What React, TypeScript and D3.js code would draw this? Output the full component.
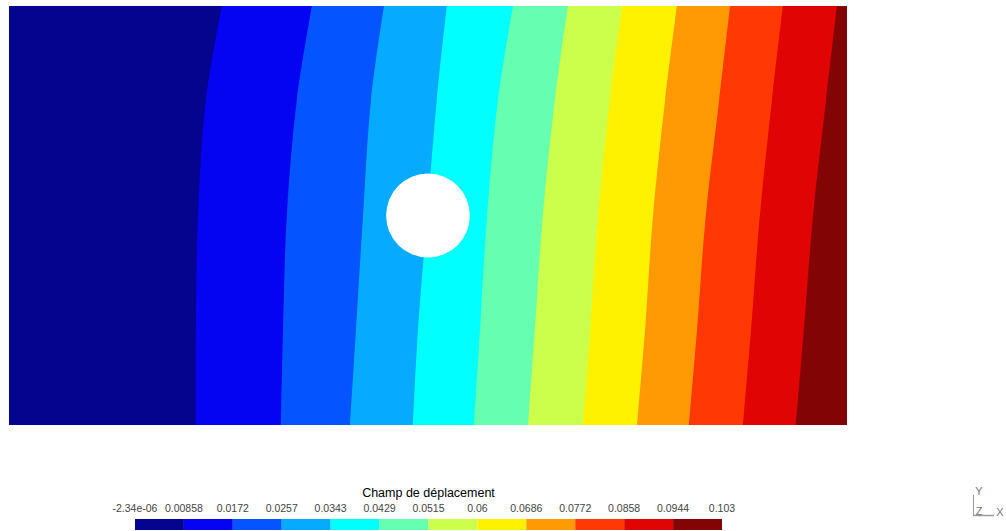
import React from "react";
import * as d3 from "d3";

// Contour levels (colour-bar tick labels)
const levelLabels = ["-2.34e-06", "0.00858", "0.0172", "0.0257", "0.0343", "0.0429", "0.0515", "0.06", "0.0686", "0.0772", "0.0858", "0.0944", "0.103"];

// Band colours, lowest to highest
const bandColors = ["#04048e", "#0404f2", "#0454ff", "#06aaff", "#00ffff", "#66ffb0", "#ccff4c", "#fff200", "#ff9a04", "#ff3804", "#e00404", "#820404"];

// Plate geometry (physical units)
const plateX = [0, 2];
const plateY = [0, 1];
const holeCenter = [1, 0.5];
const holeRadius = 0.1;

// Heights (y) at which the iso-line positions were read
const sampleY = [1, 0.776, 0.5, 0.227, 0];

// x position of each iso-line (boundary between band i and i+1) at each sampleY
const isoB1 = [0.508, 0.47, 0.451, 0.446, 0.446];
const isoB2 = [0.723, 0.687, 0.663, 0.654, 0.649];
const isoB3 = [0.895, 0.864, 0.845, 0.828, 0.814];
const isoB4 = [1.045, 1.021, 0.998, 0.976, 0.964];
const isoB5 = [1.203, 1.167, 1.141, 1.124, 1.11];
const isoB6 = [1.334, 1.303, 1.274, 1.255, 1.239];
const isoB7 = [1.463, 1.434, 1.406, 1.387, 1.37];
const isoB8 = [1.594, 1.566, 1.537, 1.518, 1.499];
const isoB9 = [1.721, 1.695, 1.663, 1.642, 1.623];
const isoB10 = [1.847, 1.821, 1.792, 1.771, 1.752];
const isoB11 = [1.976, 1.95, 1.919, 1.897, 1.878];
const isoLines = [isoB1, isoB2, isoB3, isoB4, isoB5, isoB6, isoB7, isoB8, isoB9, isoB10, isoB11];

const W = 1006;
const H = 531;

export default function App() {
  const x = d3.scaleLinear().domain(plateX).range([9, 847]);
  const y = d3.scaleLinear().domain(plateY).range([425, 6]);

  const line = d3
    .line<[number, number]>()
    .x((d) => x(d[0]))
    .y((d) => y(d[1]))
    .curve(d3.curveCatmullRom.alpha(0.5));

  // Region to the right of each iso-line, painted in order
  const regions = isoLines.map((xs, i) => {
    const pts: [number, number][] = xs.map((v, k) => [v, sampleY[k]]);
    const curve = line(pts) as string;
    const d = `${curve}L${x(plateX[1]) + 2},${y(plateY[0]) + 2}L${x(plateX[1]) + 2},${y(plateY[1]) - 2}Z`;
    return { d, color: bandColors[i + 1] };
  });

  // Colour bar
  const cb = d3.scaleLinear().domain([0, bandColors.length]).range([135, 722]);
  const cbTop = 519;
  const cbH = 11;

  return (
    <svg width={W} height={H} style={{ position: "absolute", left: 0, top: 0, background: "#fff" }} fontFamily="'Liberation Sans', Arial, sans-serif">
      <defs>
        <clipPath id="plate">
          <rect x={x(plateX[0])} y={y(plateY[1])} width={x(plateX[1]) - x(plateX[0])} height={y(plateY[0]) - y(plateY[1])} />
        </clipPath>
      </defs>
      <g clipPath="url(#plate)">
        <rect x={x(plateX[0])} y={y(plateY[1])} width={x(plateX[1]) - x(plateX[0])} height={y(plateY[0]) - y(plateY[1])} fill={bandColors[0]} />
        {regions.map((r, i) => (
          <path key={i} d={r.d} fill={r.color} />
        ))}
      </g>
      <circle cx={x(holeCenter[0])} cy={y(holeCenter[1])} r={x(holeRadius) - x(0)} fill="#fff" />

      {/* colour bar */}
      <text x={(cb(0) + cb(bandColors.length)) / 2} y={497} textAnchor="middle" fontSize={12.5} fill="#000" fontWeight={500}>
        Champ de déplacement
      </text>
      {levelLabels.map((l, i) => (
        <text key={l} x={cb(i)} y={512} textAnchor="middle" fontSize={10.5} fill="#444">
          {l}
        </text>
      ))}
      {bandColors.map((c, i) => (
        <rect key={c} x={cb(i)} y={cbTop} width={cb(i + 1) - cb(i)} height={cbH} fill={c} />
      ))}

      {/* axis triad */}
      <g stroke="#9a9a9a" fill="none">
        <line x1={973.5} y1={495} x2={973.5} y2={516} strokeWidth={1} />
        <line x1={973} y1={515.5} x2={994} y2={515.5} strokeWidth={1.5} />
      </g>
      <g fill="#777" fontSize={11} textAnchor="middle">
        <text x={979} y={495}>Y</text>
        <text x={979} y={515}>Z</text>
        <text x={1000} y={516}>X</text>
      </g>
    </svg>
  );
}
